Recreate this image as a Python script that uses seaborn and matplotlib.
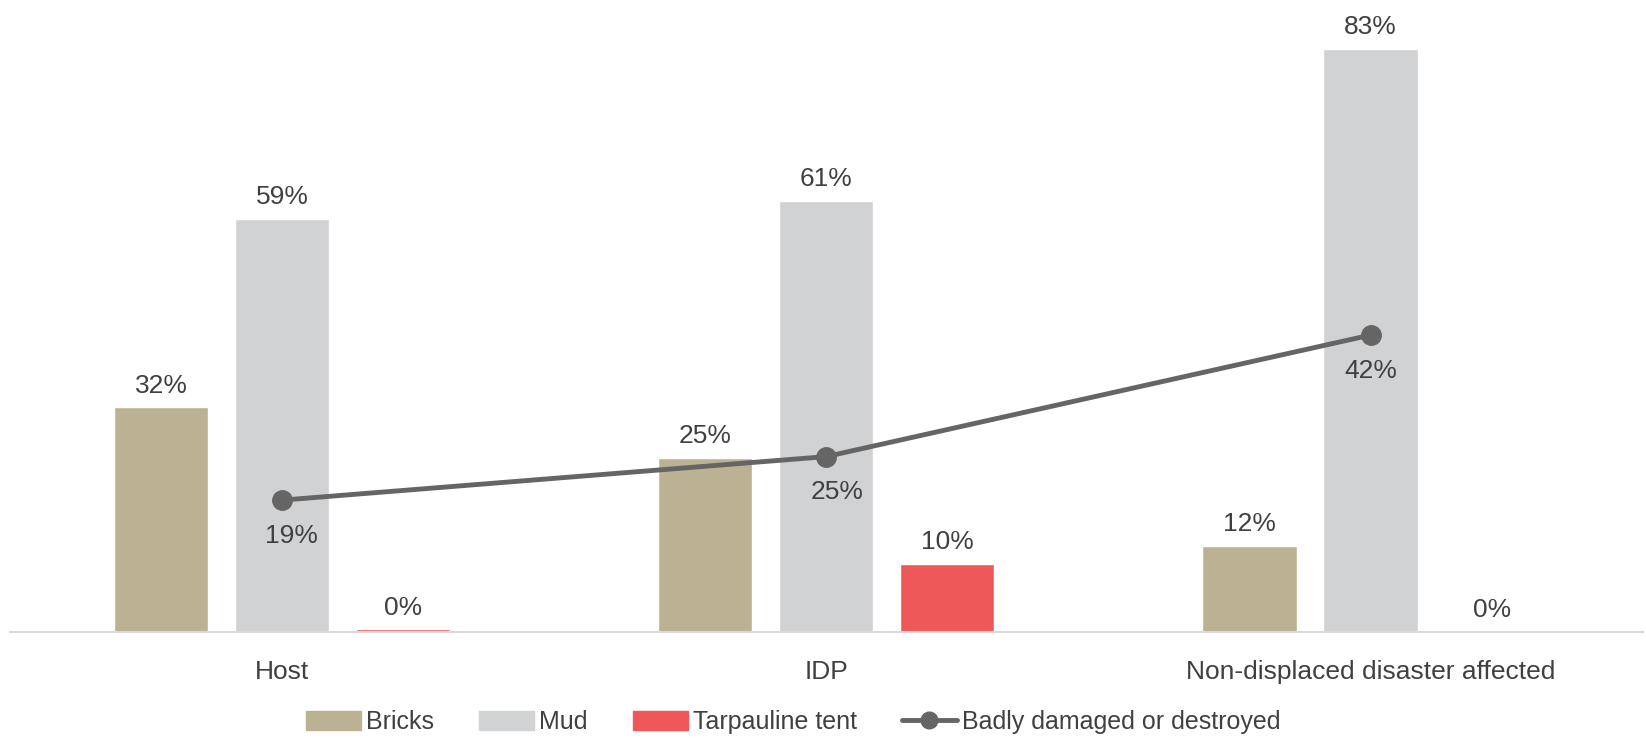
import pandas as pd
import matplotlib.pyplot as plt
import seaborn as sns
from matplotlib.patches import Patch
from matplotlib.lines import Line2D

# Data (bar heights, labels as printed)
groups = ["Host", "IDP", "Non-displaced disaster affected"]
bricks = [32, 24.8, 12.3]
mud = [58.8, 61.4, 83]
tarpaulin = [0.4, 9.7, 0]
damaged = [18.8, 25, 42.3]
damaged_labels = ["19%", "25%", "42%"]
bar_labels = {"Bricks": ["32%", "25%", "12%"],
              "Mud": ["59%", "61%", "83%"],
              "Tarpauline tent": ["0%", "10%", "0%"]}

series = ["Bricks", "Mud", "Tarpauline tent"]
colors = ["#BBB294", "#D1D2D4", "#EF5859"]
line_color = "#656565"
text_color = "#404040"

df = pd.DataFrame({
    "group": groups * 3,
    "material": [s for s in series for _ in groups],
    "value": bricks + mud + tarpaulin,
})

sns.set_style("white")
plt.rcParams["font.family"] = ["Liberation Sans Narrow", "Liberation Sans", "DejaVu Sans"]

fig = plt.figure(figsize=(16.46, 7.42), dpi=100)
ax = fig.add_axes([0.006, 0.148, 0.992, 0.852])

sns.barplot(data=df, x="group", y="value", hue="material", hue_order=series,
            palette=colors, width=0.667, gap=0.22, saturation=1, ax=ax,
            legend=False)

for cont, s in zip(ax.containers, series):
    ax.bar_label(cont, labels=bar_labels[s], padding=7, fontsize=19, color=text_color)

ax.plot(range(len(groups)), damaged, color=line_color, lw=3.5, marker="o",
        markersize=14, label="Badly damaged or destroyed", zorder=5)
x_off = [7, 8, 0]
for i, v in enumerate(damaged):
    ax.annotate(damaged_labels[i], (i, v), xytext=(x_off[i], -17), textcoords="offset points",
                ha="center", va="top", fontsize=19, color=text_color)

ax.set_ylim(0, 90)
ax.set_xlim(-0.5, 2.5)
ax.set_yticks([])
ax.set_xlabel("")
ax.set_ylabel("")
ax.tick_params(axis="x", length=0, pad=20, labelsize=19, labelcolor=text_color)
for side in ["top", "left", "right"]:
    ax.spines[side].set_visible(False)
ax.spines["bottom"].set_color("#D9D9D9")
ax.spines["bottom"].set_linewidth(1.5)

handles = [Patch(color=c, label=s) for s, c in zip(series, colors)]
handles.append(Line2D([], [], color=line_color, lw=3.5, marker="o", markersize=12,
                      label="Badly damaged or destroyed"))
fig.legend(handles=handles, loc="center", bbox_to_anchor=(0.482, 0.027), ncol=4,
           frameon=False, fontsize=18, labelcolor=text_color, handlelength=2.2,
           handleheight=0.8, columnspacing=1.8, handletextpad=0.2)

fig.savefig("out.png", dpi=100)
